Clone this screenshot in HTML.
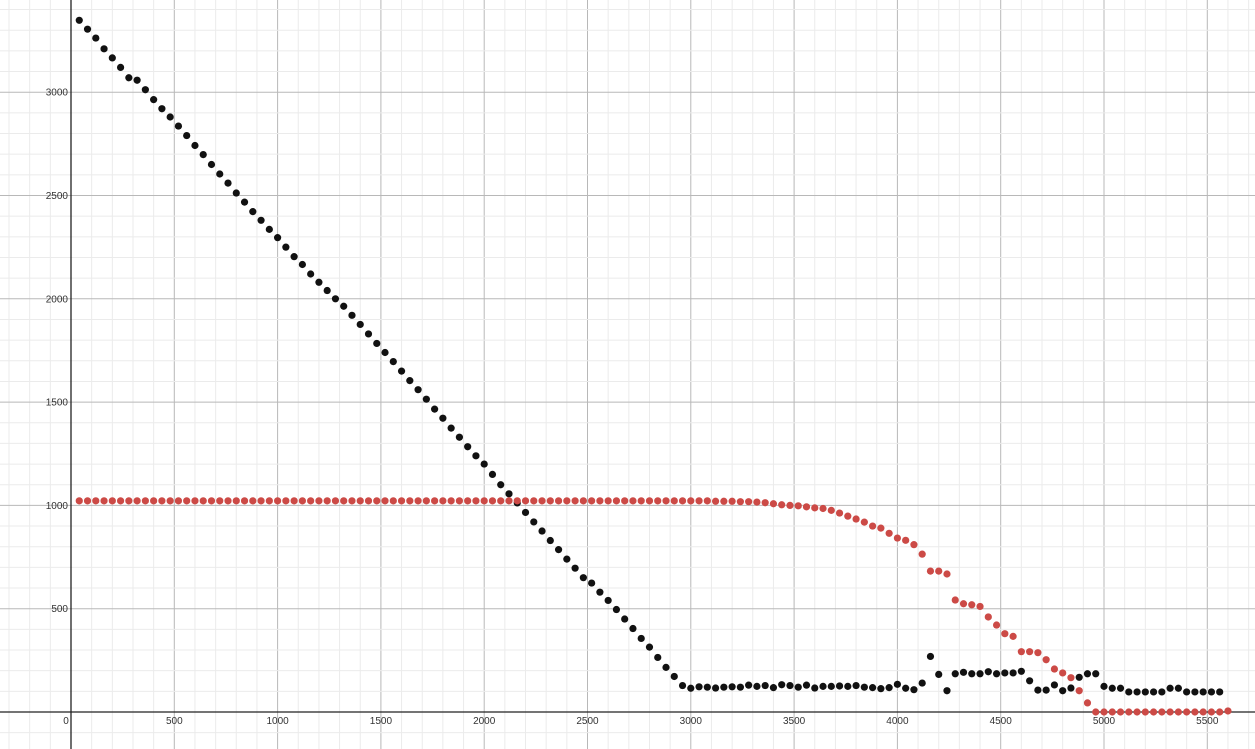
<!DOCTYPE html>
<html><head><meta charset="utf-8"><style>
html,body{margin:0;padding:0;background:#fff;}
svg{display:block;font-family:"Liberation Sans",Arial,sans-serif;}
</style></head><body>
<svg id="chart" width="1255" height="749" viewBox="0 0 1255 749" xmlns="http://www.w3.org/2000/svg">
<g id="grid"></g>
<g id="axes"></g>
<g id="labels"></g>
<g id="black"></g>
<g id="red"></g>
</svg>
<script>
const xStart = 40, xStep = 40;
const blackValues = [3348,3305,3262,3210,3166,3120,3070,3058,3012,2964,2920,2880,2836,2790,2742,2698,2650,2604,2560,2512,2468,2422,2380,2336,2296,2250,2204,2166,2120,2080,2040,2000,1964,1920,1876,1830,1784,1740,1696,1650,1604,1560,1514,1466,1422,1374,1330,1284,1240,1200,1150,1100,1056,1012,966,920,876,830,786,740,696,650,624,580,540,496,450,404,356,314,264,216,172,
128,115,122,120,116,120,122,120,130,124,128,118,132,128,120,130,116,124,124,126,124,128,120,118,113,118,134,115,108,140,269,182,103,185,192,185,185,195,185,189,189,197,151,106,106,131,103,116,168,185,185,124,115,115,97,97,97,97,97,115,115,97,97,97,97,97];
const redValues = [1022,1022,1022,1022,1022,1022,1022,1022,1022,1022,1022,1022,1022,1022,1022,1022,1022,1022,1022,1022,1022,1022,1022,1022,1022,1022,1022,1022,1022,1022,1022,1022,1022,1022,1022,1022,1022,1022,1022,1022,1022,1022,1022,1022,1022,1022,1022,1022,1022,1022,1022,1022,1022,1022,1022,1022,1022,1022,1022,1022,1022,1022,1022,1022,1022,1022,1022,1022,1022,1022,1022,1022,1022,1022,1022,1022,1022,1020,1020,1020,1018,1018,1016,
1013,1008,1003,1000,998,993,988,985,976,963,948,934,919,900,890,865,842,831,810,764,682,682,668,542,524,519,511,460,421,379,366,292,292,287,253,208,189,166,103,44,0,0,0,0,0,0,0,0,0,0,0,0,0,0,0,0,5];
const xTicks = [500,1000,1500,2000,2500,3000,3500,4000,4500,5000,5500];
const yTicks = [500,1000,1500,2000,2500,3000];

const NS = "http://www.w3.org/2000/svg";
const x0 = 71, y0 = 712, k = 0.2066;
const sx = v => x0 + v * k;
const sy = v => y0 - v * k;
function mk(tag, attrs, parent){const e=document.createElementNS(NS,tag);for(const a in attrs)e.setAttribute(a,attrs[a]);parent.appendChild(e);return e;}
const grid = document.getElementById('grid');
for (let v = -300; v <= 5900; v += 100) {
  const major = v % 500 === 0;
  const l = mk('line',{x1:sx(v),x2:sx(v),y1:0,y2:749,stroke:major?'#b8b8b8':'#ebebeb','stroke-width':1},grid);
  
  
}
for (let v = -100; v <= 3700; v += 100) {
  const major = v % 500 === 0;
  const l = mk('line',{x1:0,x2:1255,y1:sy(v),y2:sy(v),stroke:major?'#b8b8b8':'#ebebeb','stroke-width':1},grid);
  
  
}
const axes = document.getElementById('axes');
const xa = mk('line',{x1:0,x2:1255,y1:y0,y2:y0,stroke:'#222','stroke-width':1.3},axes);


const ya = mk('line',{x1:x0,x2:x0,y1:0,y2:749,stroke:'#222','stroke-width':1.3},axes);


const labels = document.getElementById('labels');
function lab(txt,x,y,anchor,name){const t=mk('text',{x:x,y:y,'text-anchor':anchor,'font-size':10,fill:'#333'},labels);t.textContent=txt;
  
  }
lab('0', x0-5, y0+12, 'middle', 'origin-label');
xTicks.forEach(v => lab(String(v), sx(v), y0+12, 'middle', 'x-tick-label'));
yTicks.forEach(v => lab(String(v), x0-3, sy(v)+3.5, 'end', 'y-tick-label'));
function dots(values, gid, color, name){
  const g = document.getElementById(gid);
  values.forEach((v,i) => {
    const c = mk('circle',{cx:sx(xStart + xStep*i), cy:sy(v), r:3.6, fill:color}, g);
    
    
  });
}
dots(blackValues, 'black', '#111', 'black-point');
dots(redValues, 'red', '#cc4a46', 'red-point');
</script>
</body></html>
